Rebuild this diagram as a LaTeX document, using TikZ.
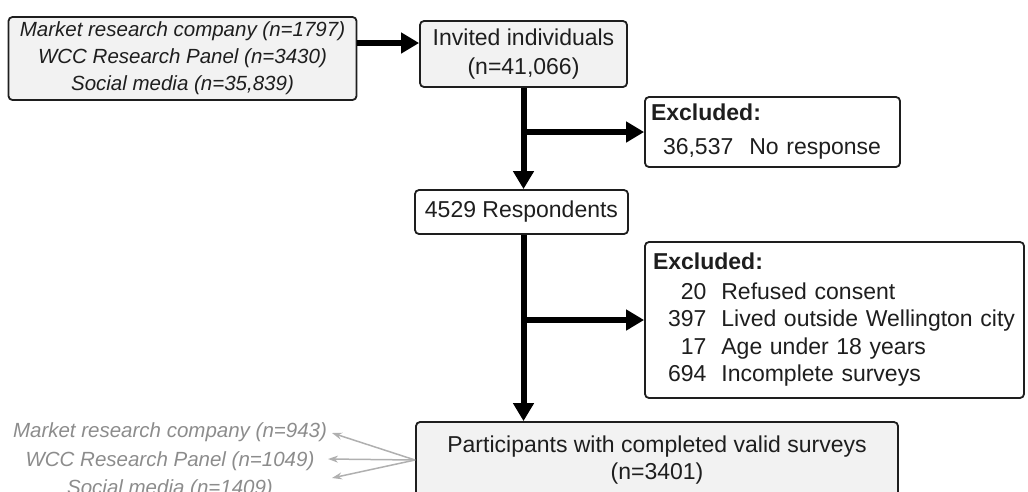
\documentclass[tikz,border=0pt]{standalone}
\usepackage{fontspec}
\setmainfont{Liberation Sans}
\usetikzlibrary{arrows.meta}

\definecolor{boxfill}{HTML}{F2F2F2}
\definecolor{inkgray}{HTML}{1E1E1E}
\definecolor{notegray}{HTML}{8C8C8C}
\definecolor{notearrow}{HTML}{B0B0B0}

\tikzset{
  flowbox/.style={draw=inkgray, line width=1.8pt, rounded corners=4pt, text=inkgray,
    inner sep=0pt, font=\fontsize{23}{27.5}\selectfont},
  greybox/.style={flowbox, fill=boxfill},
  sourcetext/.style={font=\fontsize{20.5}{27}\selectfont\itshape},
  flowarrow/.style={line width=6pt, draw=black, -{Triangle[length=18pt,width=20pt]}},
  notearrow/.style={line width=1.5pt, draw=notearrow, -{Stealth[length=10pt,width=7pt]}}
}

\begin{document}
\begin{tikzpicture}[x=1pt, y=-1pt]
    \useasboundingbox (0, 0) rectangle (1028, 491);
    \clip (0, 0) rectangle (1028, 491);

    % boxes of the flow
    \node[greybox, sourcetext, minimum width=348pt, minimum height=83pt, align=center]
        (src) at (182.5, 58.5) {Market research company (n=1797)\\WCC Research Panel (n=3430)\\Social media (n=35,839)};
    \node[greybox, minimum width=207pt, minimum height=66pt, align=center,
        font=\fontsize{23}{28.5}\selectfont]
        (inv) at (523.5, 54) {Invited individuals\\(n=41,066)};
    \node[flowbox, fill=white, text width=243pt, inner xsep=6pt, minimum height=70pt, align=left]
        (exc1) at (772.5, 132) {\begin{tabular}{@{\hspace{12pt}}r@{\hspace{16pt}}l@{}}
            \multicolumn{2}{@{}l@{}}{\textbf{Excluded:}}\\[7pt]
            36,537 & No response
        \end{tabular}};
    \node[flowbox, fill=white, minimum width=213pt, minimum height=44pt]
        (resp) at (521.5, 212) {4529 Respondents};
    \node[flowbox, fill=white, text width=363pt, inner xsep=8pt, minimum height=156pt, align=left]
        (exc2) at (834.5, 320) {\begin{tabular}{@{\hspace{15pt}}r@{\hspace{15pt}}l@{}}
            \multicolumn{2}{@{}l@{}}{\textbf{Excluded:}}\\[2pt]
            20 & Refused consent\\
            397 & Lived outside Wellington city\\
            17 & Age under 18 years\\
            694 & Incomplete surveys
        \end{tabular}};
    \node[greybox, minimum width=482pt, minimum height=76pt, align=center,
        font=\fontsize{23}{27}\selectfont]
        (fin) at (657, 460) {Participants with completed valid surveys\\(n=3401)};

    % final sources, in grey
    \node[sourcetext, text=notegray, align=center, font=\fontsize{20.5}{28.5}\selectfont\itshape]
        (notes) at (170, 461) {Market research company (n=943)\\WCC Research Panel (n=1049)\\Social media (n=1409)};
    \coordinate (tipmrc) at (332, 433);
    \coordinate (tipwcc) at (328, 459);
    \coordinate (tipsoc) at (332, 478);

    % main arrows
    \draw[flowarrow] (src.east |- 0, 43) -- (inv.west |- 0, 43);
    \draw[flowarrow] (inv.south) -- (inv.south |- resp.north);
    \draw[flowarrow] (inv.south |- exc1.west) -- (exc1.west);
    \draw[flowarrow] (resp.south -| inv.south) -- (inv.south |- fin.north);
    \draw[flowarrow] (inv.south |- exc2.west) -- (exc2.west);

    % grey arrows
    \foreach \tip in {tipmrc, tipwcc, tipsoc} {
        \draw[notearrow] (fin.west) -- (\tip);
    }
\end{tikzpicture}
\end{document}
